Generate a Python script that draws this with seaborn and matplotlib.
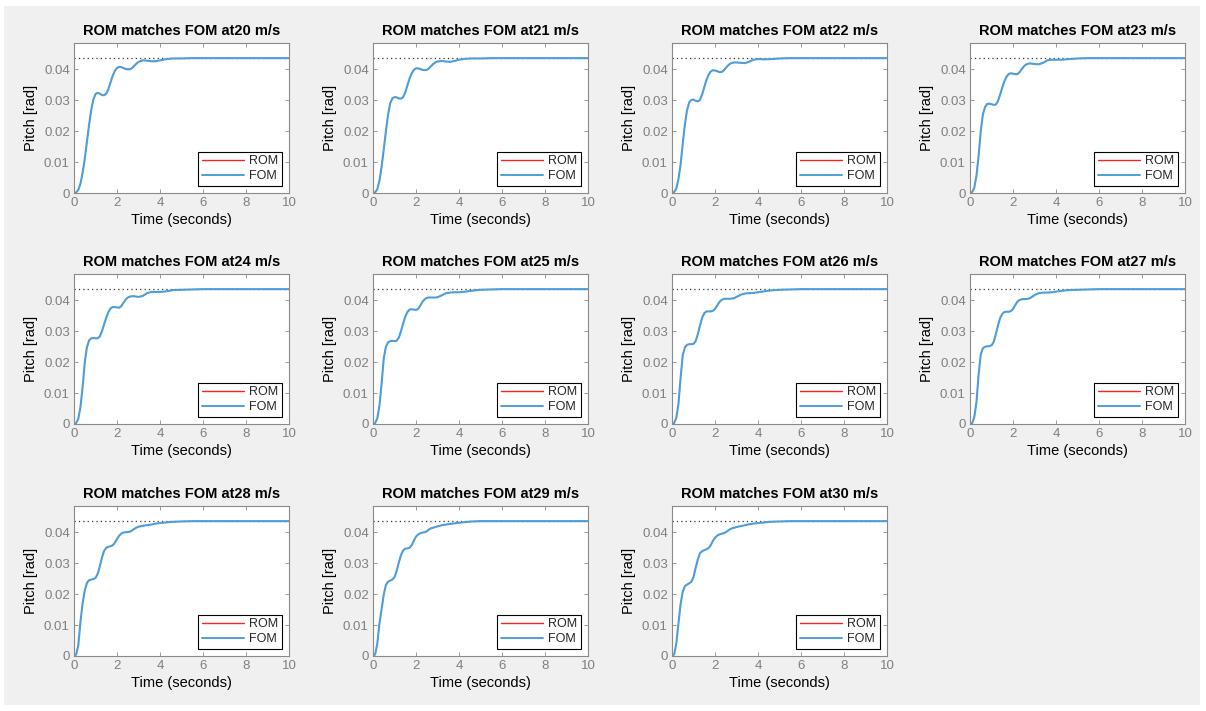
import numpy as np
import pandas as pd
import matplotlib
matplotlib.use("Agg")
import matplotlib.pyplot as plt
import seaborn as sns
from matplotlib.patches import Rectangle
from matplotlib.lines import Line2D

# ---------------- data ----------------
speeds = [20, 21, 22, 23, 24, 25, 26, 27, 28, 29, 30]

time_s = [0.0, 0.1, 0.2, 0.3, 0.4, 0.5, 0.6, 0.7, 0.8, 0.9,
          1.0, 1.1, 1.2, 1.3, 1.4, 1.5, 1.6, 1.7, 1.8, 1.9,
          2.0, 2.1, 2.2, 2.3, 2.4, 2.5, 2.6, 2.7, 2.8, 2.9,
          3.0,
          3.2, 3.4, 3.6, 3.8, 4.0, 4.3, 4.6, 5.0, 5.5, 6.0, 7.0, 8.0, 9.0, 10.0]

fom_20 = [0.0, .0002, .0010, .0030, .0065, .0110, .0165, .0220, .0268, .0302,
          .0320, .0324, .0321, .0317, .0316, .0321, .0336, .0358, .0379, .0395,
          .0404, .0408, .0407, .0404, .0401, .0400, .0400, .0404, .0411, .0418,
          .0424,
          .0429, .0428, .0426, .0426, .0429, .0433, .0435, .0435, .0436, .0436, .0436, .0436, .0436, .0436]
fom_21 = [0.0, .0002, .0012, .0040, .0085, .0140, .0200, .0253, .0290, .0306,
          .0310, .0309, .0306, .0305, .0310, .0325, .0348, .0370, .0387, .0398,
          .0403, .0403, .0401, .0398, .0397, .0398, .0403, .0410, .0417, .0422,
          .0425,
          .0427, .0425, .0424, .0427, .0431, .0434, .0435, .0435, .0436, .0436, .0436, .0436, .0436, .0436]
fom_22 = [0.0, .0003, .0014, .0045, .0092, .0160, .0222, .0268, .0293, .0301,
          .0302, .0298, .0296, .0301, .0318, .0342, .0365, .0382, .0393, .0397,
          .0396, .0394, .0391, .0391, .0396, .0404, .0412, .0418, .0421, .0422,
          .0422,
          .0421, .0420, .0425, .0431, .0433, .0432, .0433, .0435, .0436, .0436, .0436, .0436, .0436, .0436]
fom_23 = [0.0, .0003, .0017, .0055, .0120, .0200, .0254, .0278, .0288, .0289,
          .0287, .0285, .0286, .0297, .0318, .0341, .0361, .0376, .0385, .0387,
          .0386, .0384, .0384, .0390, .0400, .0409, .0415, .0418, .0419, .0418,
          .0417,
          .0416, .0421, .0429, .0431, .0431, .0431, .0433, .0435, .0436, .0436, .0436, .0436, .0436, .0436]
fom_24 = [0.0, .0003, .0017, .0055, .0118, .0198, .0248, .0270, .0277, .0278,
          .0277, .0277, .0283, .0300, .0322, .0344, .0362, .0374, .0378, .0378,
          .0377, .0376, .0381, .0392, .0402, .0409, .0412, .0413, .0413, .0412,
          .0411,
          .0414, .0423, .0427, .0427, .0427, .0429, .0433, .0434, .0435, .0436, .0436, .0436, .0436, .0436]
fom_25 = [0.0, .0003, .0018, .0060, .0130, .0212, .0250, .0264, .0268, .0269,
          .0268, .0269, .0279, .0300, .0325, .0347, .0362, .0370, .0371, .0370,
          .0369, .0372, .0383, .0395, .0403, .0408, .0409, .0409, .0409, .0409,
          .0410,
          .0416, .0423, .0425, .0426, .0426, .0428, .0431, .0434, .0435, .0436, .0436, .0436, .0436, .0436]
fom_26 = [0.0, .0003, .0020, .0065, .0150, .0222, .0248, .0256, .0258, .0258,
          .0259, .0268, .0290, .0318, .0343, .0358, .0364, .0364, .0364, .0366,
          .0372, .0383, .0394, .0401, .0404, .0405, .0405, .0405, .0406, .0407,
          .0411,
          .0418, .0422, .0423, .0424, .0426, .0429, .0432, .0434, .0435, .0436, .0436, .0436, .0436, .0436]
fom_27 = [0.0, .0003, .0022, .0070, .0160, .0225, .0245, .0250, .0251, .0252,
          .0254, .0265, .0290, .0318, .0342, .0356, .0362, .0363, .0363, .0365,
          .0372, .0384, .0395, .0401, .0403, .0404, .0404, .0405, .0407, .0412,
          .0417,
          .0423, .0425, .0425, .0426, .0428, .0431, .0433, .0434, .0435, .0436, .0436, .0436, .0436, .0436]
fom_28 = [0.0, .0005, .0035, .0110, .0170, .0212, .0236, .0245, .0247, .0249,
          .0252, .0265, .0290, .0318, .0340, .0350, .0353, .0355, .0358, .0366,
          .0378, .0389, .0396, .0399, .0400, .0401, .0402, .0406, .0411, .0415,
          .0418,
          .0421, .0423, .0425, .0428, .0430, .0432, .0434, .0435, .0436, .0436, .0436, .0436, .0436, .0436]
fom_29 = [0.0, .0005, .0040, .0105, .0152, .0198, .0230, .0240, .0244, .0247,
          .0255, .0275, .0302, .0326, .0341, .0347, .0348, .0350, .0358, .0373,
          .0386, .0393, .0397, .0399, .0400, .0403, .0409, .0413, .0415, .0417,
          .0419,
          .0423, .0425, .0427, .0429, .0431, .0433, .0435, .0436, .0436, .0436, .0436, .0436, .0436, .0436]
fom_30 = [0.0, .0005, .0040, .0105, .0168, .0208, .0226, .0231, .0235, .0240,
          .0255, .0285, .0312, .0332, .0339, .0342, .0345, .0349, .0358, .0372,
          .0382, .0389, .0393, .0395, .0397, .0400, .0405, .0410, .0413, .0415,
          .0417,
          .0420, .0423, .0426, .0428, .0430, .0432, .0434, .0435, .0436, .0436, .0436, .0436, .0436, .0436]

# The reduced-order model lies exactly on top of the full-order model
rom_20, rom_21, rom_22, rom_23 = fom_20, fom_21, fom_22, fom_23
rom_24, rom_25, rom_26, rom_27 = fom_24, fom_25, fom_26, fom_27
rom_28, rom_29, rom_30 = fom_28, fom_29, fom_30

steady_state = 0.0436

x_ticks = [0, 2, 4, 6, 8, 10]
y_ticks = [0, 0.01, 0.02, 0.03, 0.04]
y_tick_labels = ["0", "0.01", "0.02", "0.03", "0.04"]

fom_all = [fom_20, fom_21, fom_22, fom_23, fom_24, fom_25, fom_26, fom_27, fom_28, fom_29, fom_30]
rom_all = [rom_20, rom_21, rom_22, rom_23, rom_24, rom_25, rom_26, rom_27, rom_28, rom_29, rom_30]

# ---------------- styling ----------------
ROM_COLOR = "#FF2020"
FOM_COLOR = "#4D9FDB"
TICK_GRAY = "#7f7f7f"
SPINE_GRAY = "#8a8a8a"

sns.set_style("white")
plt.rcParams["font.family"] = ["Liberation Sans", "DejaVu Sans"]

W, H = 1206, 711
fig = plt.figure(figsize=(W / 100, H / 100), dpi=100, facecolor="white")
fig.patches.append(Rectangle((4 / W, 6 / H), 1196 / W, 699 / H, transform=fig.transFigure,
                             facecolor="#f0f0f0", edgecolor="none", zorder=-10))

col_left = [74, 373, 672, 970]
row_top = [43, 274, 506]
aw, ah = 215, 150

for i, spd in enumerate(speeds):
    r, c = divmod(i, 4)
    left = col_left[c] / W
    bottom = 1 - (row_top[r] + ah) / H
    ax = fig.add_axes([left, bottom, aw / W, ah / H])
    ax.set_facecolor("white")

    df = pd.DataFrame({
        "Time": time_s * 2,
        "Pitch": list(rom_all[i]) + list(fom_all[i]),
        "Model": ["ROM"] * len(time_s) + ["FOM"] * len(time_s),
    })
    sns.lineplot(data=df, x="Time", y="Pitch", hue="Model", hue_order=["ROM", "FOM"],
                 palette={"ROM": ROM_COLOR, "FOM": FOM_COLOR}, sort=False,
                 linewidth=1.4, legend=False, ax=ax)
    # ROM trace sits thinner underneath so it stays hidden by the FOM trace
    ax.lines[0].set_linewidth(0.6)
    ax.lines[1].set_linewidth(1.5)
    ax.axhline(steady_state, color="#333333", linestyle=(0, (1, 2.5)), linewidth=0.9, zorder=1)

    ax.set_xlim(0, 10)
    ax.set_ylim(0, 0.0485)
    ax.set_xticks(x_ticks)
    ax.set_xticklabels([str(v) for v in x_ticks])
    ax.set_yticks(y_ticks)
    ax.set_yticklabels(y_tick_labels)
    ax.tick_params(direction="in", length=3, width=0.6, colors=SPINE_GRAY,
                   labelcolor=TICK_GRAY, labelsize=9.5, top=True, right=True,
                   bottom=True, left=True, pad=3)
    for s in ax.spines.values():
        s.set_color(SPINE_GRAY)
        s.set_linewidth(0.8)

    ax.set_title(f"ROM matches FOM at{spd} m/s", fontsize=10.5, fontweight="bold",
                 color="black", pad=6)
    ax.set_xlabel("Time (seconds)", fontsize=10.5, color="black", labelpad=3)
    ax.set_ylabel("Pitch [rad]", fontsize=10.5, color="black", labelpad=4)

    handles = [Line2D([0], [0], color=ROM_COLOR, lw=1.0),
               Line2D([0], [0], color=FOM_COLOR, lw=1.4)]
    ax.legend(handles, ["ROM", "FOM"], loc="lower right", fontsize=9,
              frameon=True, fancybox=False, edgecolor="black", framealpha=1,
              handlelength=3.4, handletextpad=0.4, borderpad=0.3, labelspacing=0.25,
              borderaxespad=0.55).get_frame().set_linewidth(0.8)

fig.savefig("out.png", dpi=100, facecolor=fig.get_facecolor())
